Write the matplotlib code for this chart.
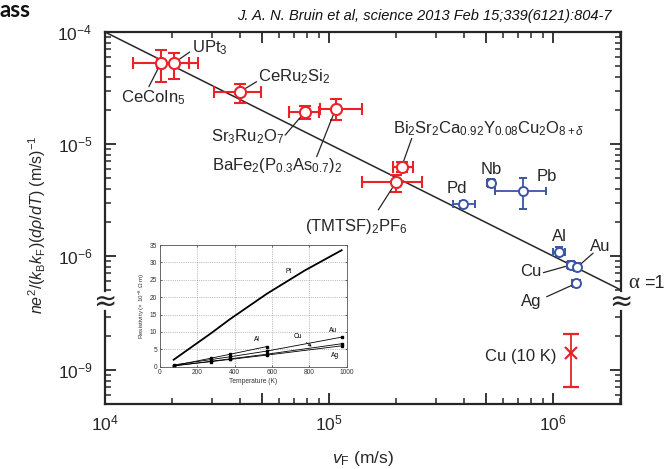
import numpy as np
import matplotlib.pyplot as plt
from matplotlib.ticker import FixedLocator, NullFormatter, FuncFormatter

plt.rcParams['font.family'] = ['Liberation Sans', 'DejaVu Sans']
plt.rcParams['mathtext.fontset'] = 'custom'
plt.rcParams['mathtext.rm'] = 'Liberation Sans'
plt.rcParams['mathtext.it'] = 'Liberation Sans:italic'
plt.rcParams['mathtext.bf'] = 'Liberation Sans:bold'

RED = '#ec2229'
BLUE = '#3b55a6'
INK = '#262626'

# --- red: correlated / unconventional metals
red_names = ['CeCoIn$_5$', 'UPt$_3$', 'CeRu$_2$Si$_2$', 'Sr$_3$Ru$_2$O$_7$',
             'BaFe$_2$(P$_{0.3}$As$_{0.7}$)$_2$',
             'Bi$_2$Sr$_2$Ca$_{0.92}$Y$_{0.08}$Cu$_2$O$_{8+\\delta}$',
             '(TMTSF)$_2$PF$_6$']
red_v = np.array([1.78e4, 2.04e4, 4.01e4, 7.82e4, 1.07e5, 2.11e5, 1.99e5])
red_v_lo = np.array([1.33e4, 1.70e4, 3.07e4, 6.62e4, 9.12e4, 1.94e5, 1.40e5])
red_v_hi = np.array([2.37e4, 2.61e4, 4.95e4, 9.06e4, 1.40e5, 2.38e5, 2.61e5])
red_y = np.array([5.32e-5, 5.32e-5, 2.93e-5, 1.94e-5, 2.05e-5, 6.27e-6, 4.55e-6])
red_y_lo = np.array([3.60e-5, 3.79e-5, 2.31e-5, 1.66e-5, 1.64e-5, 5.66e-6, 3.75e-6])
red_y_hi = np.array([6.90e-5, 6.45e-5, 3.43e-5, 2.18e-5, 2.51e-5, 6.95e-6, 5.28e-6])

# --- blue: simple metals
blue_names = ['Pd', 'Nb', 'Pb', 'Al', 'Cu', 'Au', 'Ag']
blue_v = np.array([3.98e5, 5.28e5, 7.37e5, 1.06e6, 1.20e6, 1.28e6, 1.27e6])
blue_v_lo = np.array([3.56e5, 5.05e5, 5.50e5, 1.00e6, 1.15e6, 1.23e6, 1.22e6])
blue_v_hi = np.array([4.49e5, 5.52e5, 9.27e5, 1.13e6, 1.25e6, 1.33e6, 1.32e6])
blue_y = np.array([2.89e-6, 4.46e-6, 3.83e-6, 1.09e-6, 8.32e-7, 7.92e-7, 5.70e-7])
blue_y_lo = np.array([2.68e-6, 4.10e-6, 2.63e-6, 9.90e-7, 7.70e-7, 7.30e-7, 5.30e-7])
blue_y_hi = np.array([3.12e-6, 4.85e-6, 4.94e-6, 1.20e-6, 9.00e-7, 8.60e-7, 6.10e-7])

# --- Cu at 10 K (lower panel)
cu10_v = [1.20e6]
cu10_y = np.array([1.41e-9])
cu10_y_lo = np.array([7.0e-10])
cu10_y_hi = np.array([2.1e-9])

# alpha = 1 line end points
line_v = [1.0e4, 2.0e6]
line_y = [1.0e-4, 5.0e-7]

# inset: resistivity vs temperature
T_pt = [73, 273, 373, 573, 773, 973]
rho_pt = [2.0, 9.6, 13.6, 21.0, 27.6, 33.5]
T_al = [73, 273, 373, 573]
rho_al = [0.3, 2.45, 3.55, 5.8]
T_m = [73, 273, 373, 573, 973]
rho_au = [0.5, 2.05, 2.84, 4.5, 8.5]
rho_cu = [0.2, 1.55, 2.24, 3.6, 6.6]
rho_ag = [0.3, 1.47, 2.08, 3.34, 6.0]

W, H = 667, 469
fig = plt.figure(figsize=(W / 100, H / 100), dpi=100)

L, R = 105 / W, 620.5 / W
ax = fig.add_axes([L, 1 - 291 / H, R - L, (291 - 32) / H])
axl = fig.add_axes([L, 1 - 404 / H, R - L, (404 - 311) / H])

xmax = 10 ** (6 + 67.5 / 224)
for a in (ax, axl):
    a.set_xscale('log')
    a.set_yscale('log')
    a.set_xlim(1e4, xmax)
    for s in a.spines.values():
        s.set_linewidth(1.6)
        s.set_color(INK)
    a.tick_params(which='both', direction='in', colors=INK, labelsize=12.5)
    a.tick_params(which='major', length=8, width=1.3)
    a.tick_params(which='minor', length=4.5, width=1.1)

ax.set_ylim(10 ** (-4 - 259 / 112), 1e-4)
axl.set_ylim(10 ** (-9 - 34 / 112), 10 ** (-9 + 59 / 112))

ax.spines['bottom'].set_visible(False)
axl.spines['top'].set_visible(False)

xmaj = [1e4, 5e4, 1e5, 5e5, 1e6]
xmin = [m * 10 ** e for e in (4, 5, 6) for m in (2, 3, 4, 6, 7, 8, 9) if m * 10 ** e < xmax]
pow_fmt = FuncFormatter(lambda v, p: r'$10^{%d}$' % round(np.log10(v))
                        if abs(np.log10(v) - round(np.log10(v))) < 1e-6 else '')
for a in (ax, axl):
    a.xaxis.set_major_locator(FixedLocator(xmaj))
    a.xaxis.set_minor_locator(FixedLocator(xmin))
    a.xaxis.set_minor_formatter(NullFormatter())
    a.yaxis.set_minor_formatter(NullFormatter())
    a.yaxis.set_major_formatter(pow_fmt)
    a.tick_params(axis='y', which='both', left=True, right=True, pad=9)

ax.tick_params(axis='x', which='both', top=True, bottom=False,
               labelbottom=False, labeltop=False)
axl.tick_params(axis='x', which='both', top=False, bottom=True, pad=7)
axl.xaxis.set_major_formatter(pow_fmt)

ax.yaxis.set_major_locator(FixedLocator([1e-4, 1e-5, 1e-6]))
ax.yaxis.set_minor_locator(FixedLocator(
    [m * 10 ** e for e in (-7, -6, -5) for m in range(2, 10)]))
axl.yaxis.set_major_locator(FixedLocator([1e-9]))
axl.yaxis.set_minor_locator(FixedLocator(
    [m * 10 ** e for e in (-10, -9) for m in range(2, 10)]))

# alpha = 1 line
ax.plot(line_v, line_y, color=INK, lw=1.1, zorder=2)

ax.errorbar(red_v, red_y,
            xerr=[red_v - red_v_lo, red_v_hi - red_v],
            yerr=[red_y - red_y_lo, red_y_hi - red_y],
            fmt='o', ms=8, mfc='white', mec=RED, mew=1.5, ecolor=RED,
            elinewidth=1.5, capsize=4.5, capthick=1.5, zorder=3)
ax.errorbar(blue_v, blue_y,
            xerr=[blue_v - blue_v_lo, blue_v_hi - blue_v],
            yerr=[blue_y - blue_y_lo, blue_y_hi - blue_y],
            fmt='o', ms=6.5, mfc='white', mec=BLUE, mew=1.4, ecolor=BLUE,
            elinewidth=1.3, capsize=3, capthick=1.3, zorder=3)
axl.errorbar(cu10_v, cu10_y, yerr=[cu10_y - cu10_y_lo, cu10_y_hi - cu10_y],
             fmt='x', ms=9, mew=1.6, color=RED, elinewidth=1.3,
             capsize=5.5, capthick=1.3, zorder=3)

# labels: text position, alignment, leader end (None = no leader)
red_lab = [((1.64e4, 2.58e-5), 'center', (1.57e4, 3.25e-5)),
           ((2.44e4, 7.2e-5), 'left', (2.39e4, 6.63e-5)),
           ((4.82e4, 3.97e-5), 'left', (4.75e4, 3.6e-5)),
           ((4.35e4, 1.16e-5), 'center', (6.37e4, 1.2e-5)),
           ((5.86e4, 6.49e-6), 'center', (8.81e4, 7.71e-6)),
           ((5.18e5, 1.38e-5), 'center', (2.34e5, 1.12e-5)),
           ((1.32e5, 1.85e-6), 'center', (1.66e5, 2.58e-6))]
blue_lab = [((3.72e5, 4.02e-6), 'center', None),
            ((5.28e5, 5.86e-6), 'center', None),
            ((9.4e5, 5.1e-6), 'center', None),
            ((1.07e6, 1.48e-6), 'center', None),
            ((7.98e5, 7.24e-7), 'center', (9.06e5, 7.1e-7)),
            ((1.62e6, 1.21e-6), 'center', (1.51e6, 1.06e-6)),
            ((8.0e5, 3.9e-7), 'center', (9.37e5, 4.33e-7))]

for names, vs, ys, labs, shr in ((red_names, red_v, red_y, red_lab, 4.5),
                                 (blue_names, blue_v, blue_y, blue_lab, 3.5)):
    for name, v, y, (pos, ha, lead) in zip(names, vs, ys, labs):
        ax.text(pos[0], pos[1], name, ha=ha, va='center', fontsize=12,
                color=INK, clip_on=False)
        if lead is not None:
            ax.annotate('', xy=(v, y), xytext=lead, annotation_clip=False,
                        arrowprops=dict(arrowstyle='-', color=INK, lw=0.9,
                                        shrinkA=0, shrinkB=shr))

axl.text(1.04e6, 1.31e-9, 'Cu (10 K)', ha='right', va='center',
         fontsize=12, color=INK)

# alpha label and axis-break marks
fig.text(628 / W, 1 - 283 / H, 'α', family=['Liberation Serif'],
         fontsize=15, color=INK, ha='left', va='center')
fig.text(644 / W, 1 - 283 / H, '=1', fontsize=13, color=INK,
         ha='left', va='center')
for xb in (L, R):
    fig.text(xb, 1 - 302 / H, '≈', family=['DejaVu Sans'], fontsize=20,
             color=INK, ha='center', va='center')

fig.text(37 / W, 1 - 225 / H,
         r'$ne^2/(k_\mathrm{B}k_\mathrm{F})(d\rho/dT)$ (m/s)$^{-1}$',
         rotation=90, ha='center', va='center', fontsize=11.5, color=INK)
fig.text((L + R) / 2, 1 - 458 / H, r'$v_\mathrm{F}$ (m/s)',
         ha='center', va='center', fontsize=12.5, color=INK)

fig.text(612 / W, 1 - 16 / H,
         'J. A. N. Bruin et al, science 2013 Feb 15;339(6121):804-7',
         style='italic', ha='right', va='center', fontsize=10.5, color='#111111')
fig.text(0.0, 1.0, 'ass', fontsize=16, fontweight='bold',
         family=['Lato', 'DejaVu Sans'], ha='left', va='top', color='#111111')

# inset
ins = fig.add_axes([160 / W, 1 - 366.7 / H, 186.7 / W, 121.7 / H])
ins.plot(T_pt, rho_pt, color='k', lw=1.3)
for rr, tt in ((rho_al, T_al), (rho_au, T_m), (rho_cu, T_m), (rho_ag, T_m)):
    ins.plot(tt, rr, color='k', lw=0.6, marker='s', ms=1.8)
ins.set_xlim(0, 1000)
ins.set_ylim(0, 35)
ins.set_xticks(range(0, 1001, 200))
ins.set_yticks(range(0, 36, 5))
ins.grid(True, ls=':', lw=0.5, color='#888888')
ins.tick_params(labelsize=4.8, length=1.5, width=0.5, pad=2, direction='in',
                top=True, right=True, colors='#333333')
for s in ins.spines.values():
    s.set_linewidth(0.6)
    s.set_color('#555555')
ins.set_xlabel('Temperature (K)', fontsize=4.8, labelpad=1, color='#333333')
ins.set_ylabel('Resistivity (× 10$^{-8}$ Ω m)', fontsize=4.5, labelpad=2,
               color='#333333')
ins.text(687, 27.3, 'Pt', fontsize=4.8, ha='center', va='center')
ins.text(518, 7.7, 'Al', fontsize=4.8, ha='center', va='center')
ins.text(929, 10.5, 'Au', fontsize=4.8, ha='center', va='center')
ins.text(937, 3.2, 'Ag', fontsize=4.8, ha='center', va='center')
ins.annotate('Cu', xy=(812, 5.8), xytext=(741, 8.8), fontsize=4.8,
             ha='center', va='center',
             arrowprops=dict(arrowstyle='->', lw=0.5, color='k',
                             shrinkA=1, shrinkB=0))

fig.savefig('out.png', dpi=100)
